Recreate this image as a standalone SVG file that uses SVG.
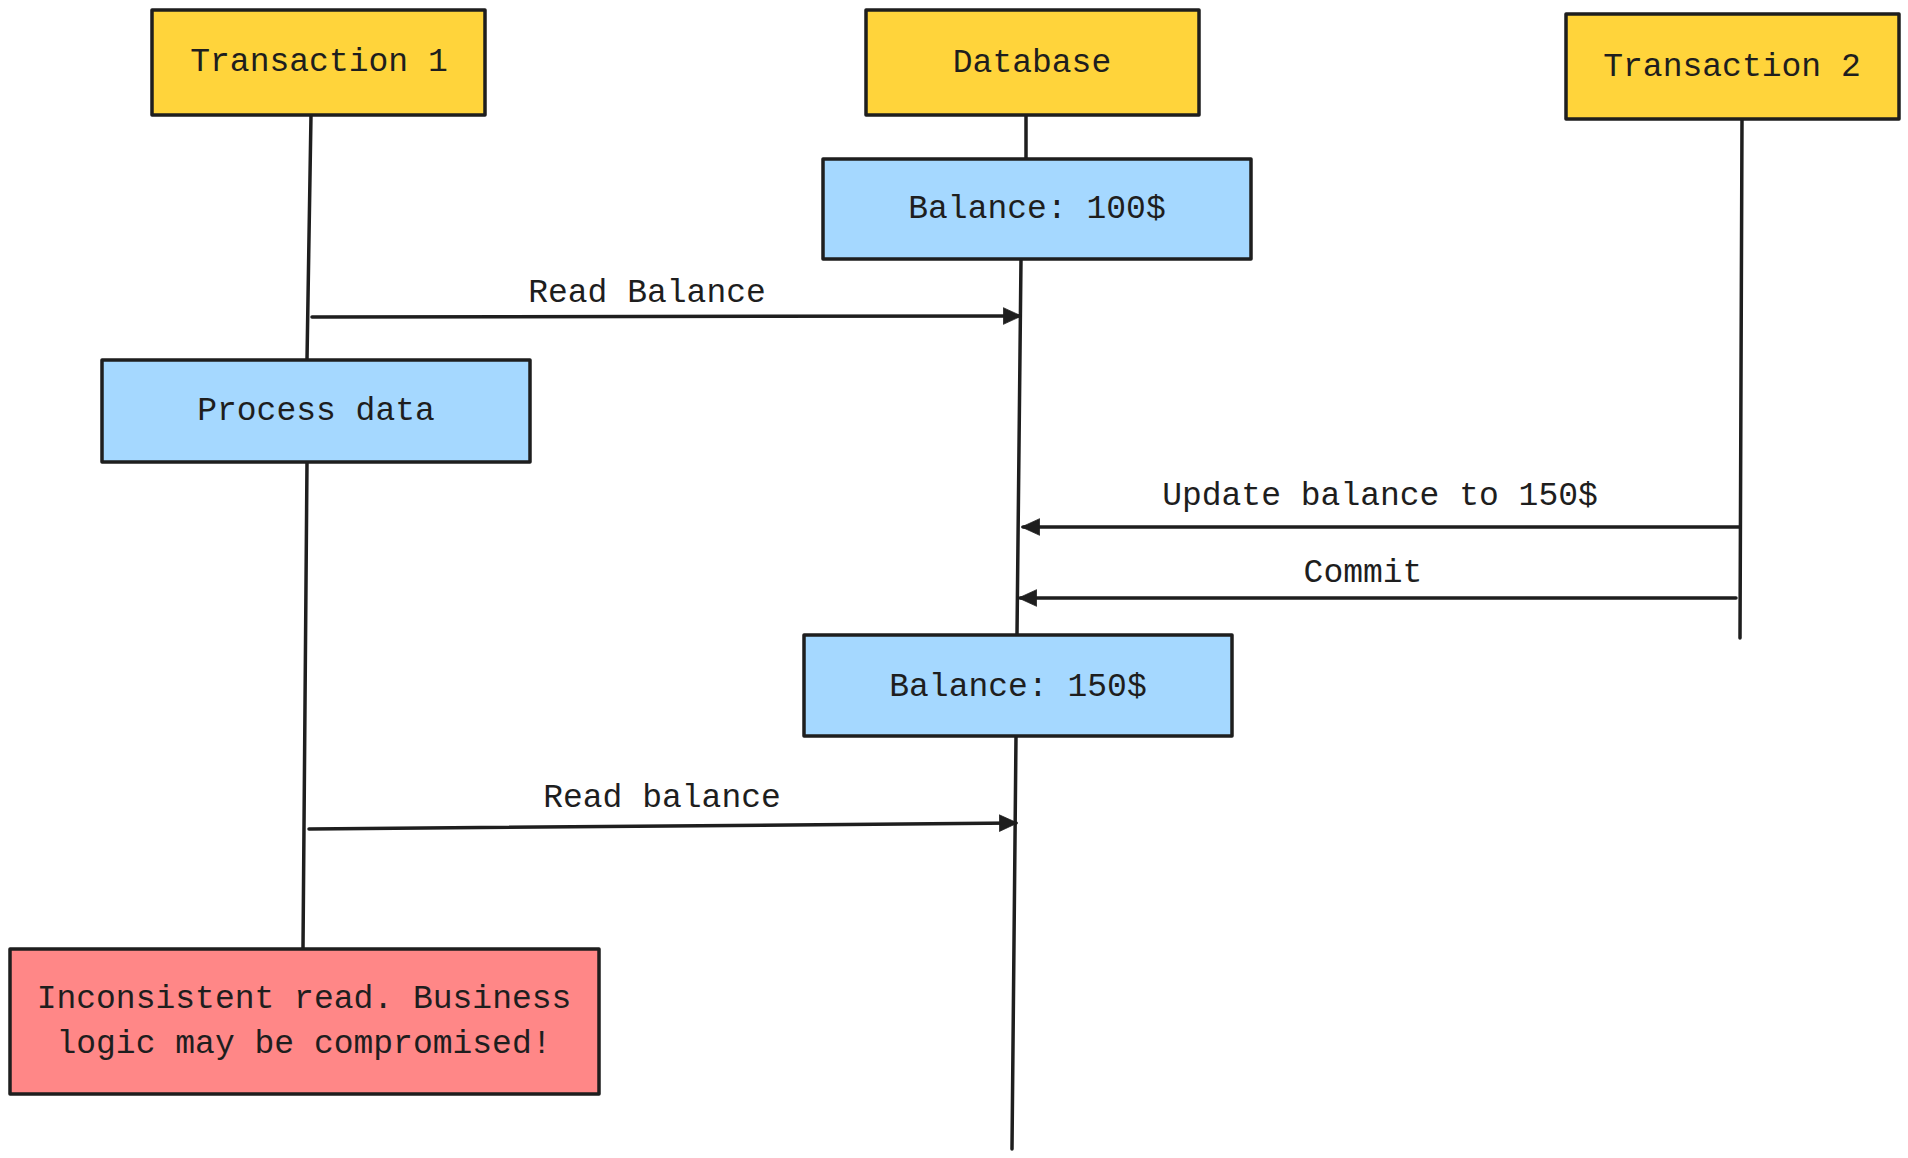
<svg xmlns="http://www.w3.org/2000/svg" width="1908" height="1158" viewBox="0 0 1908 1158">
<style>
  .box { stroke: #1e1e1e; stroke-width: 3.5; stroke-linejoin: round; }
  .yellow { fill: #ffd43b; }
  .blue { fill: #a5d8ff; }
  .red { fill: #ff8787; }
  .life { stroke: #1e1e1e; stroke-width: 3.5; fill: none; stroke-linecap: round; }
  .arrow { stroke: #1e1e1e; stroke-width: 3.5; fill: none; stroke-linecap: round; }
  text { font-family: "Liberation Mono", "DejaVu Sans Mono", monospace; font-size: 33px; fill: #1e1e1e; text-anchor: middle; }
</style>
<defs>
  <marker id="ah" viewBox="0 0 12 12" refX="11" refY="6" markerWidth="5.2" markerHeight="5.2" orient="auto" markerUnits="strokeWidth">
    <path d="M0,0.5 L12,6 L0,11.5 Z" fill="#1e1e1e" stroke="#1e1e1e" stroke-width="0.5" stroke-linejoin="round"/>
  </marker>
</defs>
<g id="lifelines">
  <path class="life" d="M311,115 L307,360"/>
  <path class="life" d="M307,462 L303,948"/>
  <path class="life" d="M1026,115 L1026,159"/>
  <path class="life" d="M1021,259 L1017,635"/>
  <path class="life" d="M1016,736 L1012,1149"/>
  <path class="life" d="M1742,119 L1740,638"/>
</g>
<g id="connectors">
  <path class="arrow" d="M312,317 L1020,316" marker-end="url(#ah)"/>
  <text x="647" y="302">Read Balance</text>
  <path class="arrow" d="M1740,527 L1023,527" marker-end="url(#ah)"/>
  <text x="1380" y="505">Update balance to 150$</text>
  <path class="arrow" d="M1736,598 L1020,598" marker-end="url(#ah)"/>
  <text x="1363" y="582">Commit</text>
  <path class="arrow" d="M309,829 L1016,823" marker-end="url(#ah)"/>
  <text x="662" y="807">Read balance</text>
</g>
<g id="transaction1">
  <rect class="box yellow" x="152" y="10" width="333" height="105"/>
  <text x="319" y="71">Transaction 1</text>
</g>
<g id="database">
  <rect class="box yellow" x="866" y="10" width="333" height="105"/>
  <text x="1032" y="72">Database</text>
</g>
<g id="transaction2">
  <rect class="box yellow" x="1566" y="14" width="333" height="105"/>
  <text x="1732" y="76">Transaction 2</text>
</g>
<g id="balance100">
  <rect class="box blue" x="823" y="159" width="428" height="100"/>
  <text x="1037" y="218">Balance: 100$</text>
</g>
<g id="processdata">
  <rect class="box blue" x="102" y="360" width="428" height="102"/>
  <text x="316" y="420">Process data</text>
</g>
<g id="balance150">
  <rect class="box blue" x="804" y="635" width="428" height="101"/>
  <text x="1018" y="696">Balance: 150$</text>
</g>
<g id="inconsistent">
  <rect class="box red" x="10" y="949" width="589" height="145"/>
  <text x="304" y="1008">Inconsistent read. Business</text>
  <text x="304" y="1053">logic may be compromised!</text>
</g>
</svg>
